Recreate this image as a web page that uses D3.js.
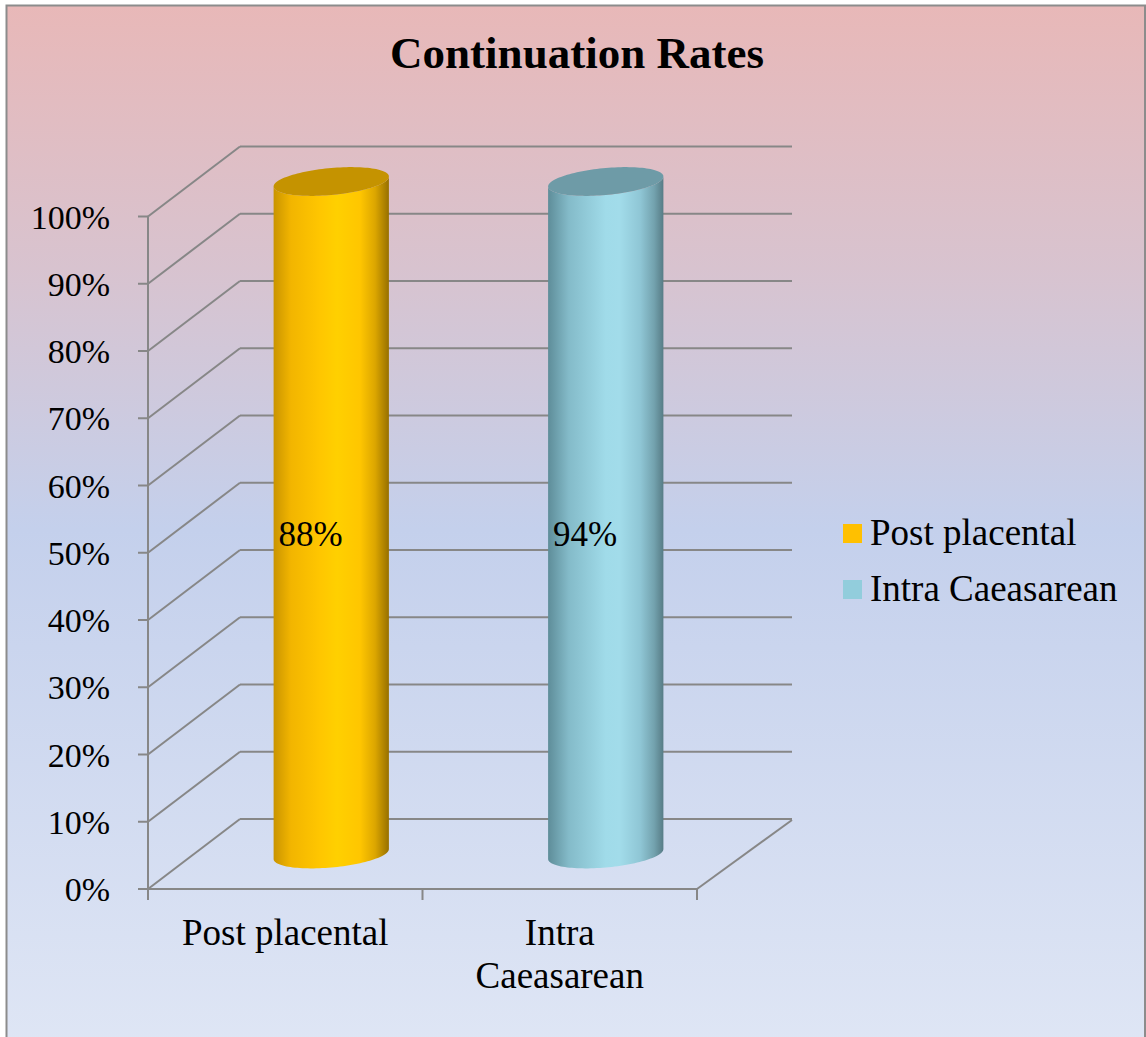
<!DOCTYPE html>
<html>
<head>
<meta charset="utf-8">
<script src="https://cdn.jsdelivr.net/npm/d3@7"></script>
<style>
  html, body { margin: 0; padding: 0; background: #ffffff; }
  svg { display: block; }
  text { font-family: "Liberation Serif", "Times New Roman", serif; fill: #000; }
</style>
</head>
<body>
<svg id="chart" width="1146" height="1037"></svg>
<script>
// ---- data ----
const title = "Continuation Rates";
const categories = ["Post placental", "Intra Caeasarean"];
const seriesNames = ["Post placental", "Intra Caeasarean"];
const postPlacental = [88, 0];      // % continuation, one value per category
const intraCaeasarean = [0, 94];
const yTicks = [0, 0.1, 0.2, 0.3, 0.4, 0.5, 0.6, 0.7, 0.8, 0.9, 1.0];
const seriesColors = ["#ffc000", "#92cddc"];

// rows for the 100% stacked layout
const rows = categories.map((c, i) => ({
  category: c,
  [seriesNames[0]]: postPlacental[i],
  [seriesNames[1]]: intraCaeasarean[i]
}));
const stacked = d3.stack()
  .keys(seriesNames)
  .offset(d3.stackOffsetExpand)(rows);

// ---- layout ----
const svg = d3.select("#chart");
const W = 1146, H = 1037;
const plotLeft = 148, plotRight = 697;
const floorY = 889, topY = 216.5;
const depthX = 92, depthY = -70;   // oblique offset of the back wall

const x = d3.scaleBand().domain(categories).range([plotLeft, plotRight]).padding(0);
const y = d3.scaleLinear().domain([0, 1]).range([floorY, topY]);
const fmt = d3.format(".0%");

const defs = svg.append("defs");

// background
const bg = defs.append("linearGradient").attr("id", "bg")
  .attr("x1", 0).attr("y1", 0).attr("x2", 0).attr("y2", 1);
[[0, "#e8b8b8"], [0.25, "#d8c3cf"], [0.5, "#c4d0ec"], [1, "#dfe6f5"]]
  .forEach(([o, c]) => bg.append("stop").attr("offset", o).attr("stop-color", c));

svg.append("rect").attr("x", 0).attr("y", 0).attr("width", W).attr("height", H).attr("fill", "#ffffff");
svg.append("rect")
  .attr("x", 6.5).attr("y", 5.5).attr("width", 1138.5).attr("height", H + 10)
  .attr("fill", "url(#bg)").attr("stroke", "#8c8c8c").attr("stroke-width", 2);

// cylinder gradients
const bodyStops = [
  [[0, "#c99400"], [0.15, "#f2b500"], [0.4, "#ffc600"], [0.55, "#ffd000"], [0.75, "#ffc600"], [0.88, "#dca600"], [1, "#977000"]],
  [[0, "#5e8d99"], [0.18, "#84bbc9"], [0.5, "#a0dbe9"], [0.62, "#a2dcea"], [0.8, "#8fc6d5"], [0.92, "#73a2ae"], [1, "#577c86"]]
];
const topColors = ["#c59300", "#6e9ba7"];
bodyStops.forEach((stops, i) => {
  const g = defs.append("linearGradient").attr("id", "body" + i)
    .attr("x1", 0).attr("y1", 0).attr("x2", 1).attr("y2", 0);
  stops.forEach(([o, c]) => g.append("stop").attr("offset", o).attr("stop-color", c));
});

// title
svg.append("text")
  .attr("x", 577).attr("y", 68)
  .attr("text-anchor", "middle")
  .style("font-size", "45px").style("font-weight", "bold")
  .text(title);

// ---- walls and floor ----
const grid = svg.append("g").attr("stroke", "#878787").attr("stroke-width", 2).attr("fill", "none");

// back wall horizontal lines
grid.selectAll(".back").data(yTicks).join("line")
  .attr("x1", plotLeft + depthX).attr("x2", 792)
  .attr("y1", d => y(d) + depthY).attr("y2", d => y(d) + depthY);

// side wall diagonals
grid.selectAll(".side").data(yTicks).join("line")
  .attr("x1", plotLeft).attr("y1", d => y(d))
  .attr("x2", plotLeft + depthX).attr("y2", d => y(d) + depthY);

// floor front edge and right edge
grid.append("line").attr("x1", plotLeft).attr("x2", plotRight).attr("y1", floorY).attr("y2", floorY);
grid.append("line").attr("x1", plotRight).attr("y1", floorY)
  .attr("x2", plotRight + depthX + 3).attr("y2", floorY + depthY + 1);

// value axis line + ticks
grid.append("line").attr("x1", plotLeft).attr("x2", plotLeft).attr("y1", floorY).attr("y2", topY);
grid.selectAll(".ytick").data(yTicks).join("line")
  .attr("x1", plotLeft - 10).attr("x2", plotLeft)
  .attr("y1", d => y(d)).attr("y2", d => y(d));

// category axis ticks
const xEdges = categories.map(c => x(c)).concat([plotRight]);
grid.selectAll(".xtick").data(xEdges).join("line")
  .attr("x1", d => d).attr("x2", d => d)
  .attr("y1", floorY).attr("y2", floorY + 11);

// value labels
svg.append("g").selectAll("text").data(yTicks).join("text")
  .attr("x", 110).attr("y", d => y(d) + 12)
  .attr("text-anchor", "end")
  .style("font-size", "34px")
  .text(d => fmt(d));

// category labels
const catLines = { "Post placental": ["Post placental"], "Intra Caeasarean": ["Intra", "Caeasarean"] };
categories.forEach(c => {
  const t = svg.append("text")
    .attr("x", x(c) + x.bandwidth() / 2)
    .attr("y", 945)
    .attr("text-anchor", "middle")
    .style("font-size", "37px");
  catLines[c].forEach((ln, k) => {
    t.append("tspan").attr("x", x(c) + x.bandwidth() / 2).attr("dy", k === 0 ? 0 : 43).text(ln);
  });
});

// ---- cylinders ----
const rx = x.bandwidth() * 0.21;
const ry = 13.5, shear = -5;
const midDX = depthX / 2, midDY = depthY / 2;
const lineGen = d3.line();

function ellipsePts(cx, cy, t0, t1, n) {
  return d3.range(n + 1).map(i => {
    const t = t0 + (t1 - t0) * i / n;
    return [cx + rx * Math.cos(t), cy + ry * Math.sin(t) + shear * Math.cos(t)];
  });
}

const bars = svg.append("g");
stacked.forEach((s, si) => {
  s.forEach((d, ci) => {
    const v = d.data[seriesNames[si]];
    if (!v) return;
    const cx = x(categories[ci]) + x.bandwidth() / 2 + midDX;
    const yBot = y(d[0]) + midDY;
    const yTop = y(d[1]) + midDY;
    // body: left side, front half of bottom, right side, front half of top
    const pts = [].concat(
      [[cx - rx, yTop - shear], [cx - rx, yBot - shear]],
      ellipsePts(cx, yBot, Math.PI, 0, 60),
      [[cx + rx, yTop + shear]],
      ellipsePts(cx, yTop, 0, Math.PI, 60)
    );
    bars.append("path").attr("d", lineGen(pts) + "Z").attr("fill", `url(#body${si})`);
    bars.append("path")
      .attr("d", lineGen(ellipsePts(cx, yTop, 0, 2 * Math.PI, 120)) + "Z")
      .attr("fill", topColors[si]);

    // data label
    const ly = y((d[0] + d[1]) / 2) + depthY * 0.25;
    bars.append("text")
      .attr("x", cx - rx + 5)
      .attr("y", ly + 11)
      .style("font-size", "35px")
      .text(v + "%");
  });
});

// ---- legend ----
const legend = svg.append("g");
seriesNames.forEach((name, i) => {
  const ly = 524 + i * 56;
  legend.append("rect").attr("x", 843).attr("y", ly).attr("width", 19).attr("height", 19)
    .attr("fill", seriesColors[i]);
  legend.append("text").attr("x", 870).attr("y", ly + 21)
    .style("font-size", "37px").text(name);
});
</script>
</body>
</html>
